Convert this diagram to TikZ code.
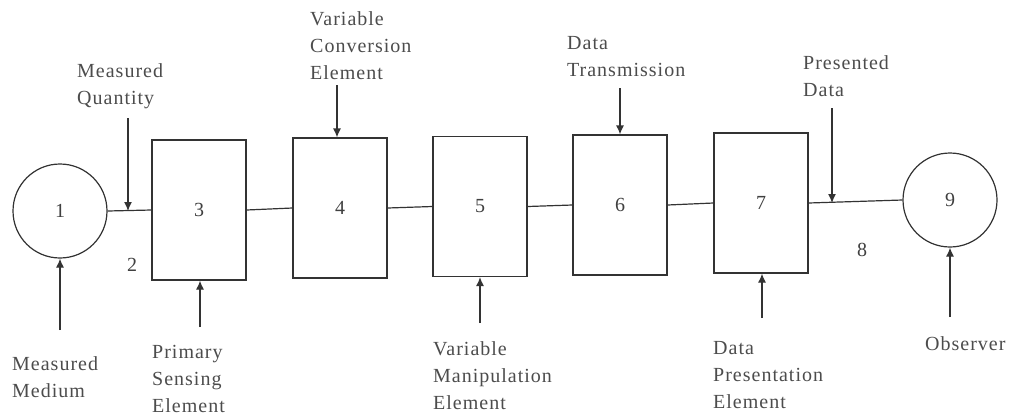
\documentclass[tikz,border=0pt]{standalone}
\usepackage{fontspec}
\setmainfont{Liberation Serif}[LetterSpace=5]
\usetikzlibrary{arrows.meta}
\begin{document}
\begin{tikzpicture}[x=1pt,y=-1pt,
  ln/.style={draw=black!80,line width=1.2pt},
  arr/.style={ln,-{Latex[length=9pt,width=8pt]}},
  circ/.style={ln,circle,minimum size=94pt,inner sep=0pt,font=\fontsize{20}{24}\selectfont,text=black!75},
  blk/.style={ln,rectangle,minimum width=94pt,minimum height=140pt,inner sep=0pt,font=\fontsize{20}{24}\selectfont,text=black!75},
  lbl/.style={anchor=north west,inner sep=0pt,align=left,font=\fontsize{20}{27}\selectfont,text=black!70},
  num/.style={inner sep=0pt,font=\fontsize{20}{24}\selectfont,text=black!75}]
\useasboundingbox (0,0) rectangle (1011,416);
\node[circ] (n1) at (60,211) {1};
\node[blk] (n3) at (199,210) {3};
\node[blk] (n4) at (340,208) {4};
\node[blk] (n5) at (480,206.5) {5};
\node[blk] (n6) at (620,205) {6};
\node[blk] (n7) at (761,203) {7};
\node[circ] (n9) at (950,200) {9};
\node[num] (l2) at (132,265) {2};
\node[num] (l8) at (862,250) {8};
\draw[ln] (n1.east) -- (n3.west);
\draw[ln] (n3.east) -- (n4.west);
\draw[ln] (n4.east) -- (n5.west);
\draw[ln] (n5.east) -- (n6.west);
\draw[ln] (n6.east) -- (n7.west);
\draw[ln] (n7.east) -- (n9.west);
\node[lbl] (tmq) at (77,63) {Measured\\Quantity};
\node[lbl] (tvc) at (310,11) {Variable\\Conversion\\Element};
\node[lbl] (tdt) at (567,36) {Data\\Transmission};
\node[lbl] (tpd) at (803,55) {Presented\\Data};
\node[lbl] (tmm) at (12,356) {Measured\\Medium};
\node[lbl] (tps) at (152,345) {Primary\\Sensing\\Element};
\node[lbl] (tvm) at (433,341) {Variable\\Manipulation\\Element};
\node[lbl] (tdp) at (713,341) {Data\\Presentation\\Element};
\node[lbl] (tob) at (925,336) {Observer};
\coordinate (mq) at (128,118);
\coordinate (vc) at (337,85);
\coordinate (dt) at (620,88);
\coordinate (pd) at (832,108);
\coordinate (mm) at (60,330);
\coordinate (ps) at (200,327);
\coordinate (vm) at (480,323);
\coordinate (dp) at (762,318);
\coordinate (ob) at (950,317);
\draw[arr] (mq) -- (mq |- n1.east);
\draw[arr] (vc) -- (vc |- n4.north);
\draw[arr] (dt) -- (dt |- n6.north);
\draw[arr] (pd) -- (pd |- n7.east);
\draw[arr] (mm) -- (n1.south);
\draw[arr] (ps) -- (ps |- n3.south);
\draw[arr] (vm) -- (vm |- n5.south);
\draw[arr] (dp) -- (dp |- n7.south);
\draw[arr] (ob) -- (n9.south);
\end{tikzpicture}
\end{document}
